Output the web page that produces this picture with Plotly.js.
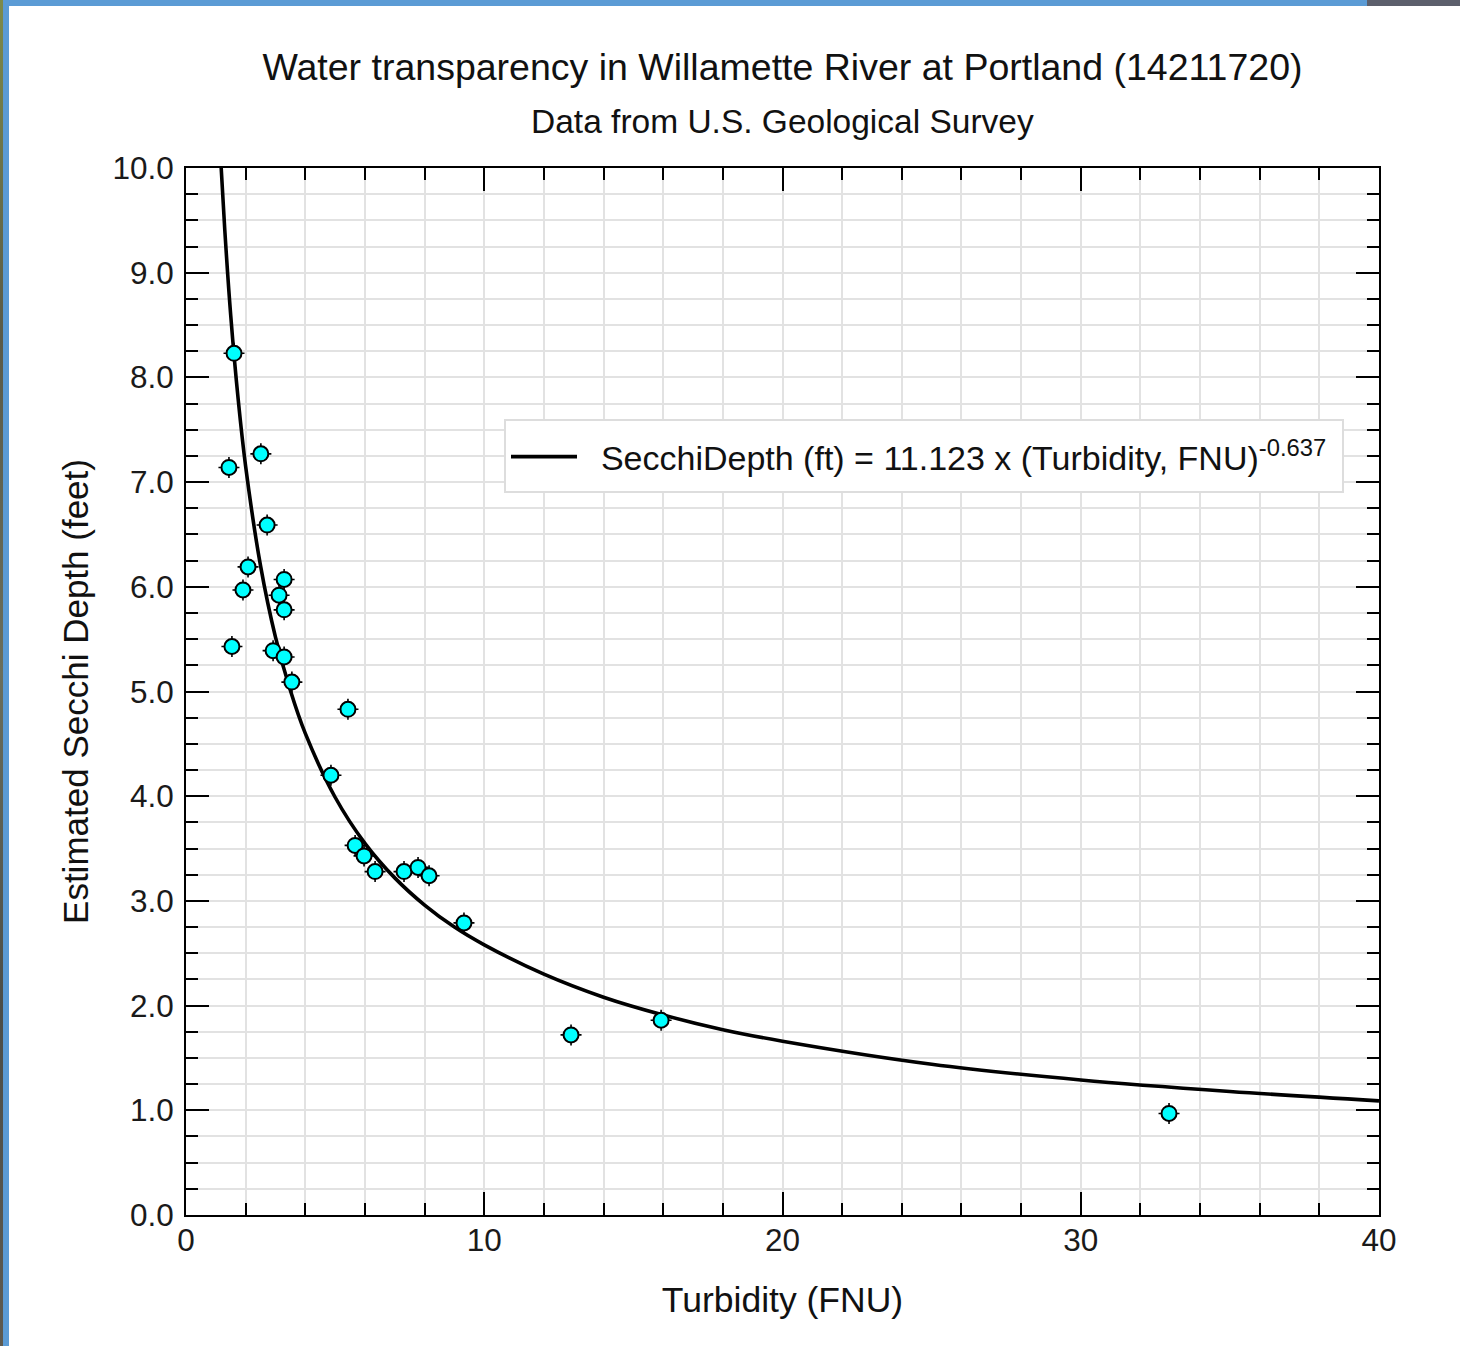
<!DOCTYPE html>
<html>
<head>
<meta charset="utf-8">
<script src="https://cdn.plot.ly/plotly-3.0.1.min.js"></script>
<style>
  html, body { margin:0; padding:0; background:#ffffff; }
  #wrap { position:relative; width:1460px; height:1346px; overflow:hidden; background:#fff; }
  #chart { position:absolute; left:0; top:0; width:1460px; height:1346px; }
  .bar-top { position:absolute; left:0; top:0; width:1367px; height:6px; background:#5b9bd5; }
  .bar-top-dark { position:absolute; left:1367px; top:0; width:93px; height:6px; background:#5c5f6c; }
  .bar-left { position:absolute; left:3px; top:0; width:6px; height:1346px; background:#5b9bd5; }
  .bar-left-tex { position:absolute; left:0; top:0; width:3px; height:1346px;
    background:linear-gradient(180deg,#7d8a4a 0%,#5a5a48 25%,#6a6e5c 50%,#4b4d48 75%,#5e5a50 100%); }
</style>
</head>
<body>
<div id="wrap">
  <div id="chart"></div>
  <div class="bar-top"></div>
  <div class="bar-top-dark"></div>
  <div class="bar-left-tex"></div>
  <div class="bar-left"></div>
</div>
<script>
// Observed samples: turbidity (FNU) vs estimated Secchi depth (ft)
const turbidity = [1.61, 1.44, 2.51, 2.72, 2.08, 1.91, 3.29, 3.12, 3.29, 1.54, 2.92, 3.29, 3.55,
                   5.43, 4.86, 5.67, 5.97, 6.34, 7.31, 7.78, 8.15, 9.32, 12.91, 15.93, 32.96];
const secchiDepth = [8.23, 7.14, 7.27, 6.59, 6.19, 5.97, 6.07, 5.92, 5.78, 5.43, 5.39, 5.33, 5.09,
                     4.83, 4.20, 3.53, 3.43, 3.28, 3.28, 3.32, 3.24, 2.79, 1.72, 1.86, 0.97];

// Fitted curve
const curveX = [1.18, 1.3, 1.5, 1.75, 2, 2.5, 3, 3.5, 4, 5, 6, 7, 8, 9, 10, 12, 14, 16, 18, 20, 25, 30, 35, 40];
const curveY = [10.0, 9.41, 8.59, 7.79, 7.15, 6.20, 5.52, 5.01, 4.60, 3.99, 3.55, 3.22, 2.96, 2.75, 2.58,
                2.30, 2.08, 1.91, 1.77, 1.66, 1.44, 1.29, 1.18, 1.09];

const xTickVals = [0, 10, 20, 30, 40];
const xTickText = ['0', '10', '20', '30', '40'];
const yTickVals = [0, 1, 2, 3, 4, 5, 6, 7, 8, 9, 10];
const yTickText = ['0.0', '1.0', '2.0', '3.0', '4.0', '5.0', '6.0', '7.0', '8.0', '9.0', '10.0'];

const FONT = 'Liberation Sans, Arial, Helvetica, sans-serif';

const traces = [
  {
    x: curveX, y: curveY, type: 'scatter', mode: 'lines',
    line: {color: '#000000', width: 3.6, shape: 'spline'},
    name: '&nbsp;&nbsp;SecchiDepth (ft) = 11.123 x (Turbidity, FNU)<sup>-0.637</sup>',
    hoverinfo: 'skip'
  },
  {
    x: turbidity, y: secchiDepth, type: 'scatter', mode: 'markers',
    marker: {symbol: 'cross-thin-open', size: 15, color: '#000000', line: {color: '#000000', width: 1.6}},
    showlegend: false, hoverinfo: 'skip'
  },
  {
    x: turbidity, y: secchiDepth, type: 'scatter', mode: 'markers',
    marker: {symbol: 'circle', size: 15, color: '#00ffff', line: {color: '#000000', width: 2}},
    showlegend: false
  }
];

const layout = {
  width: 1460, height: 1346,
  margin: {l: 186, r: 81, t: 168, b: 131, pad: 0},
  paper_bgcolor: '#ffffff', plot_bgcolor: '#ffffff',
  font: {family: FONT, color: '#1a1a1a', size: 31},
  title: {
    text: 'Water transparency in Willamette River at Portland (14211720)',
    font: {family: FONT, size: 37.5, color: '#111111'},
    x: 0.5, xref: 'paper', xanchor: 'center',
    y: 1 - 67/1346, yref: 'container', yanchor: 'middle'
  },
  annotations: [{
    text: 'Data from U.S. Geological Survey',
    xref: 'paper', yref: 'paper', x: 0.5, y: 1 + (168 - 122)/1047,
    xanchor: 'center', yanchor: 'middle', showarrow: false,
    font: {family: FONT, size: 33.5, color: '#111111'}
  }],
  shapes: [{
    type: 'rect', xref: 'paper', yref: 'paper', layer: 'above',
    x0: (505 - 186)/1193, x1: (1343 - 186)/1193,
    y0: 1 - (492 - 168)/1047, y1: 1 - (420 - 168)/1047,
    fillcolor: '#ffffff', line: {color: '#dddddd', width: 2}
  }],
  xaxis: {
    range: [0, 40], autorange: false,
    tickmode: 'array', tickvals: xTickVals, ticktext: xTickText,
    ticks: 'inside', ticklen: 23, tickwidth: 2, tickcolor: '#000',
    showline: true, linecolor: '#000', linewidth: 2, mirror: 'allticks',
    showgrid: true, gridcolor: '#e2e2e2', gridwidth: 2,
    zeroline: false, ticklabelstandoff: -4,
    tickfont: {family: FONT, size: 31.5, color: '#1a1a1a'},
    minor: {dtick: 2, tick0: 0, ticks: 'inside', ticklen: 12, tickwidth: 2, tickcolor: '#000',
            showgrid: true, gridcolor: '#e2e2e2', gridwidth: 2},
    title: {text: 'Turbidity (FNU)', font: {family: FONT, size: 35.5, color: '#111111'}, standoff: 30}
  },
  yaxis: {
    range: [0, 10], autorange: false,
    tickmode: 'array', tickvals: yTickVals, ticktext: yTickText,
    ticks: 'inside', ticklen: 23, tickwidth: 2, tickcolor: '#000',
    showline: true, linecolor: '#000', linewidth: 2, mirror: 'allticks',
    showgrid: true, gridcolor: '#e2e2e2', gridwidth: 2,
    zeroline: false, ticklabelstandoff: 4,
    tickfont: {family: FONT, size: 31.5, color: '#1a1a1a'},
    minor: {dtick: 0.25, tick0: 0, ticks: 'inside', ticklen: 12, tickwidth: 2, tickcolor: '#000',
            showgrid: true, gridcolor: '#e2e2e2', gridwidth: 2},
    title: {text: 'Estimated Secchi Depth (feet)', font: {family: FONT, size: 35, color: '#111111'}, standoff: 13}
  },
  showlegend: true,
  legend: {
    x: (506 - 186)/1193, y: 1 - (457 - 168)/1047, xanchor: 'left', yanchor: 'middle',
    bgcolor: 'rgba(0,0,0,0)', borderwidth: 0,
    font: {family: FONT, size: 34, color: '#111111'},
    itemwidth: 66, tracegroupgap: 0
  },
  hovermode: false
};

Plotly.newPlot('chart', traces, layout, {staticPlot: true, displayModeBar: false});
</script>
</body>
</html>
